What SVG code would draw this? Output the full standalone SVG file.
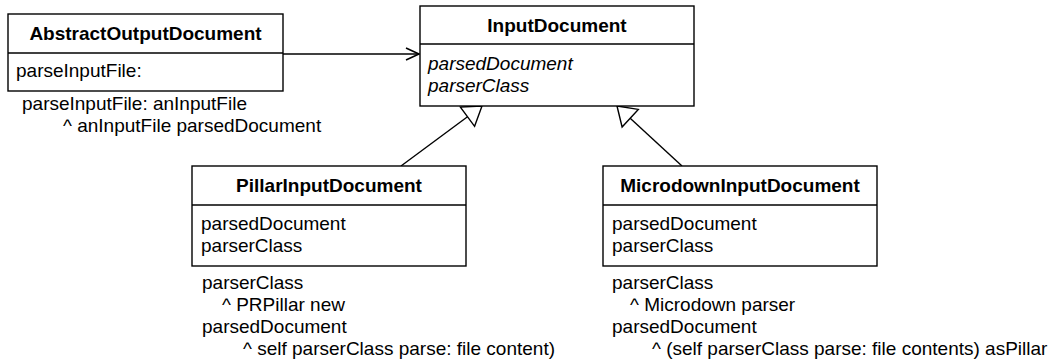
<svg xmlns="http://www.w3.org/2000/svg" width="1061" height="361" viewBox="0 0 1061 361">
<style>
text{font-family:"Liberation Sans",Arial,sans-serif;font-size:19px;fill:#000}
.t{font-weight:bold;text-anchor:middle}
.i{font-style:italic}
.box{fill:#fff;stroke:#000;stroke-width:1.4}
.ln{stroke:#000;stroke-width:1.4;fill:none}
</style>
<defs>
<marker id="open" markerWidth="16" markerHeight="14" refX="14" refY="7" orient="auto" markerUnits="userSpaceOnUse">
<path d="M1,1 L14,7 L1,13" fill="none" stroke="#000" stroke-width="1.6"/>
</marker>
</defs>
<g id="connectors">
<line class="ln" x1="283" y1="54" x2="419" y2="54" marker-end="url(#open)"/>
<line class="ln" x1="401" y1="166" x2="467.5" y2="116.7"/>
<polygon class="ln" points="482,106 460.4,107.1 474.6,126.3" fill="#fff"/>
<line class="ln" x1="682" y1="166" x2="630.2" y2="118.2"/>
<polygon class="ln" points="617,106 638.3,109.4 622.1,127" fill="#fff"/>
</g>
<g id="AbstractOutputDocument">
<rect class="box" x="8" y="14" width="275" height="77"/>
<line class="ln" x1="8" y1="53" x2="283" y2="53"/>
<text class="t" x="145.5" y="40">AbstractOutputDocument</text>
<text x="16" y="77">parseInputFile:</text>
</g>
<g id="note-abstract">
<text x="22" y="110">parseInputFile: anInputFile</text>
<text x="63" y="132">^ anInputFile parsedDocument</text>
</g>
<g id="InputDocument">
<rect class="box" x="420" y="6" width="274" height="100"/>
<line class="ln" x1="420" y1="44" x2="694" y2="44"/>
<text class="t" x="557" y="32">InputDocument</text>
<text class="i" x="428" y="70">parsedDocument</text>
<text class="i" x="428" y="92">parserClass</text>
</g>
<g id="PillarInputDocument">
<rect class="box" x="192" y="166" width="274" height="100"/>
<line class="ln" x1="192" y1="205" x2="466" y2="205"/>
<text class="t" x="329" y="192">PillarInputDocument</text>
<text x="201" y="230">parsedDocument</text>
<text x="201" y="252">parserClass</text>
</g>
<g id="note-pillar">
<text x="202" y="289">parserClass</text>
<text x="222" y="311">^ PRPillar new</text>
<text x="202" y="333">parsedDocument</text>
<text x="243" y="355">^ self parserClass parse: file content)</text>
</g>
<g id="MicrodownInputDocument">
<rect class="box" x="603" y="166" width="274" height="100"/>
<line class="ln" x1="603" y1="205" x2="877" y2="205"/>
<text class="t" x="740" y="192">MicrodownInputDocument</text>
<text x="612" y="230">parsedDocument</text>
<text x="612" y="252">parserClass</text>
</g>
<g id="note-microdown">
<text x="612" y="289">parserClass</text>
<text x="630" y="311">^ Microdown parser</text>
<text x="612" y="333">parsedDocument</text>
<text x="652" y="355">^ (self parserClass parse: file contents) asPillar</text>
</g>
</svg>
